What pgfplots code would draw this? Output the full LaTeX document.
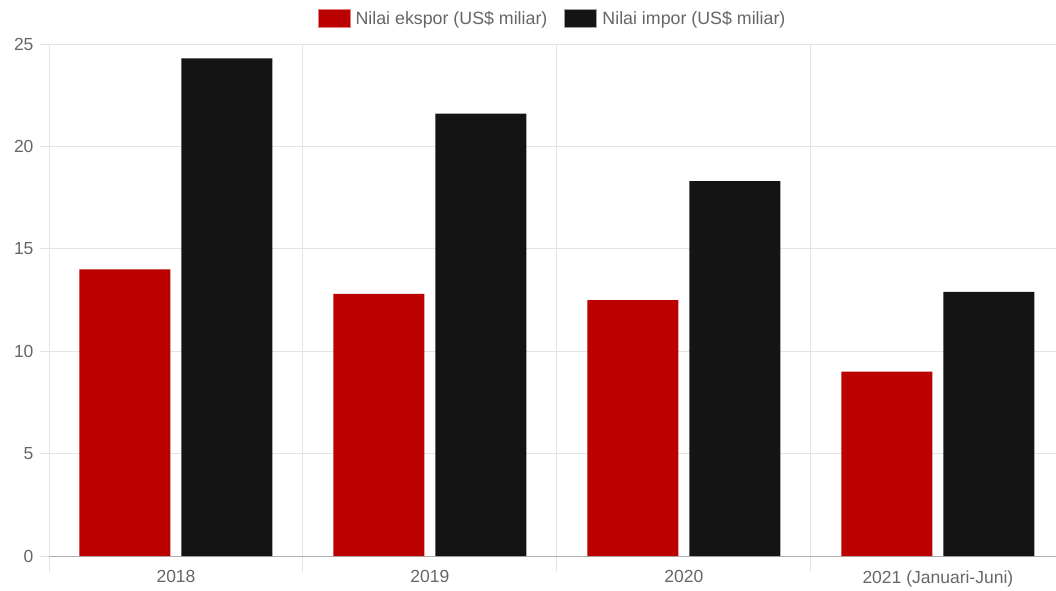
\documentclass[border=0pt]{standalone}
\usepackage{pgfplots}
\pgfplotsset{compat=1.18}
\usepackage{fontspec}
\setmainfont{Liberation Sans}
\definecolor{ekspor}{HTML}{BB0000}
\definecolor{impor}{HTML}{141414}
\definecolor{eksporb}{HTML}{E08080}
\definecolor{imporb}{HTML}{A0A0A0}
\definecolor{gridc}{HTML}{E4E4E4}
\definecolor{axc}{HTML}{B0B0B0}
\definecolor{txt}{HTML}{666666}
\begin{document}
\begin{tikzpicture}[x=1pt,y=1pt]
\path[use as bounding box] (0,0) rectangle (1056,590);
\begin{axis}[
  at={(49pt,34pt)}, anchor=south west,
  scale only axis, width=1007pt, height=512pt,
  ymin=0, ymax=25, ytick={0,5,...,25},
  xmin=-0.5, xmax=3.465,
  xtick={0,1,2,3}, xticklabels={2018,2019,2020,2021 (Januari-Juni)},
  minor xtick={-0.5,0.5,1.5,2.5,3.5},
  xminorgrids, ymajorgrids,
  grid style={draw=gridc, line width=1pt},
  minor grid style={draw=gridc, line width=1pt},
  major x tick style={draw=none},
  minor x tick style={draw=gridc, line width=1pt},
  major y tick style={draw=gridc, line width=1pt},
  tick align=outside, major tick length=9pt, minor tick length=16pt,
  axis lines*=left,
  axis line style={-},
  x axis line style={draw=axc, line width=1pt},
  y axis line style={draw=gridc, line width=1pt},
  ticklabel style={font=\fontsize{17.5}{20}\selectfont, text=txt},
  /pgf/number format/assume math mode=true,
  xticklabel style={yshift=-2pt},
  yticklabel style={xshift=-3pt},
  ybar=11pt, bar width=91pt,
  legend style={at={(0.5,1.049)}, anchor=center, draw=none, fill=none,
    legend columns=2, font=\fontsize{17.8}{20}\selectfont, text=txt,
    /tikz/every odd column/.append style={column sep=3pt},
    /tikz/every even column/.append style={column sep=15pt}},
]
\addplot[fill=ekspor, draw=none,
  legend image code/.code={\draw[fill=ekspor, draw=eksporb, line width=1pt] (0pt,-9pt) rectangle (32pt,9pt);}]
  coordinates {(0,14.0) (1,12.8) (2,12.5) (3,9.0)};
\addplot[fill=impor, draw=none,
  legend image code/.code={\draw[fill=impor, draw=imporb, line width=1pt] (0pt,-9pt) rectangle (32pt,9pt);}]
  coordinates {(0,24.3) (1,21.6) (2,18.3) (3,12.9)};
\legend{Nilai ekspor (US\$ miliar), Nilai impor (US\$ miliar)}
\end{axis}
\end{tikzpicture}
\end{document}
